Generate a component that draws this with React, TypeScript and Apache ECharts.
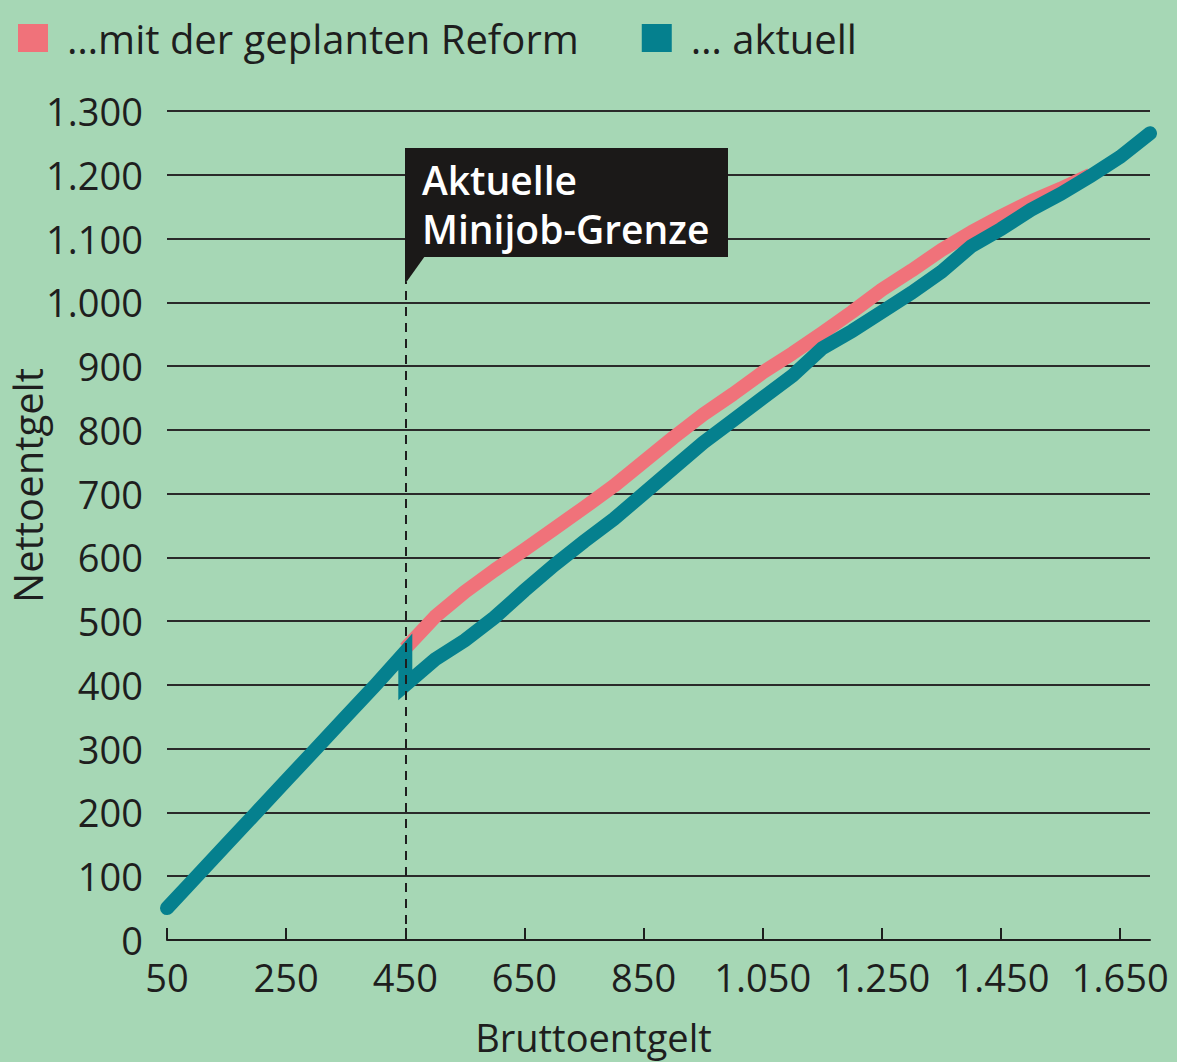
import React, { useEffect, useRef } from "react";
import * as echarts from "echarts";

const seriesNames = ["…mit der geplanten Reform", "… aktuell"];

// Bruttoentgelt / Nettoentgelt – aktuell
const grossCurrent = [50, 100, 150, 200, 250, 300, 350, 400, 450, 450, 500, 550, 600, 650, 700, 750, 800, 850, 900, 950, 1000, 1050, 1100, 1150, 1200, 1250, 1300, 1350, 1400, 1450, 1500, 1550, 1600, 1650, 1700];
const netCurrent = [50, 100, 150, 200, 250, 300, 350, 400, 452, 400, 440, 470, 506, 548, 588, 625, 660, 700, 740, 780, 815, 850, 885, 928, 955, 985, 1015, 1048, 1088, 1115, 1145, 1170, 1198, 1228, 1265];

// Bruttoentgelt / Nettoentgelt – mit der geplanten Reform
const grossReform = [450, 500, 550, 600, 650, 700, 750, 800, 850, 900, 950, 1000, 1050, 1100, 1150, 1200, 1250, 1300, 1350, 1400, 1450, 1500, 1550, 1600];
const netReform = [457, 507, 546, 580, 612, 645, 678, 712, 750, 788, 824, 856, 890, 920, 952, 985, 1020, 1050, 1082, 1110, 1135, 1158, 1178, 1200];

const xTicks = [50, 250, 450, 650, 850, 1050, 1250, 1450, 1650];
const minijobLimit = 450;
const annotationTop = 1032;
const calloutLines = ["Aktuelle", "Minijob-Grenze"];

const FONT = "'Open Sans', sans-serif";
const BG = "#a6d7b5";
const PINK = "#f0727a";
const TEAL = "#05808e";
const INK = "#1e1e1e";

const fmt = (v: number) => String(v).replace(/\B(?=(\d{3})+(?!\d))/g, ".");

export default function App() {
  const ref = useRef<HTMLDivElement>(null);
  useEffect(() => {
    if (!ref.current) return;
    const chart = echarts.init(ref.current, null, { renderer: "svg" });
    chart.setOption({
      animation: false,
      backgroundColor: BG,
      textStyle: { fontFamily: FONT },
      legend: {
        left: 18,
        top: 18,
        padding: 0,
        itemWidth: 30,
        itemHeight: 28,
        itemGap: 63,
        icon: "rect",
        data: seriesNames,
        textStyle: { fontSize: 40, color: INK, fontFamily: FONT, padding: [0, 0, 0, 14] },
      },
      grid: { left: 167, right: 27, top: 111, bottom: 122, outerBoundsMode: "none", containLabel: false },
      xAxis: {
        type: "value",
        min: 50,
        max: 1700,
        name: "Bruttoentgelt",
        nameLocation: "middle",
        nameGap: 78,
        nameMoveOverlap: false,
        nameTextStyle: { fontSize: 38, color: INK, fontFamily: FONT, padding: [0, 130, 0, 0] },
        axisLine: { show: true, lineStyle: { color: INK, width: 2 } },
        axisTick: { show: true, inside: true, length: 12, lineStyle: { color: INK, width: 2 }, customValues: xTicks },
        axisLabel: { fontSize: 38, color: INK, margin: 18, formatter: (v: number) => fmt(v), customValues: xTicks, fontFamily: FONT },
        splitLine: { show: false },
      },
      yAxis: {
        type: "value",
        min: 0,
        max: 1300,
        interval: 100,
        name: "Nettoentgelt",
        nameLocation: "middle",
        nameGap: 120,
        nameMoveOverlap: false,
        nameTextStyle: { fontSize: 40, color: INK, fontFamily: FONT, padding: [0, 0, 0, 80] },
        axisLine: { show: false },
        axisTick: { show: false },
        axisLabel: { fontSize: 38, color: INK, margin: 24, formatter: (v: number) => fmt(v), fontFamily: FONT },
        splitLine: { show: true, lineStyle: { color: "#2a2a2a", width: 2 } },
      },
      series: [
        {
          name: seriesNames[0],
          type: "line",
          z: 2,
          symbol: "none",
          color: PINK,
          lineStyle: { color: PINK, width: 14, cap: "butt", join: "round" },
          data: grossReform.map((g, i) => [g, netReform[i]]),
          markLine: {
            silent: true,
            symbol: "none",
            label: { show: false },
            lineStyle: { color: INK, width: 2, type: [9, 7] },
            data: [[{ coord: [minijobLimit, 0] }, { coord: [minijobLimit, annotationTop] }]],
          },
        },
        {
          name: seriesNames[1],
          type: "line",
          z: 3,
          symbol: "none",
          color: TEAL,
          lineStyle: { color: TEAL, width: 14, cap: "round", join: "miter" },
          data: grossCurrent.map((g, i) => [g, netCurrent[i]]),
        },
      ],
      graphic: [
        { type: "rect", shape: { x: 405, y: 148, width: 323, height: 109 }, style: { fill: "#1b1918" }, z: 10 },
        { type: "polygon", shape: { points: [[405, 256], [425, 256], [405, 284]] }, style: { fill: "#1b1918" }, z: 10 },
        {
          type: "text",
          x: 422,
          y: 155,
          z: 11,
          style: { text: calloutLines.join("\n"), fill: "#ffffff", fontSize: 39, fontWeight: 600, fontFamily: FONT, lineHeight: 49 },
        },
      ],
    });
    return () => chart.dispose();
  }, []);
  return <div ref={ref} style={{ position: "fixed", left: 0, top: 0, width: 1177, height: 1062 }} />;
}
